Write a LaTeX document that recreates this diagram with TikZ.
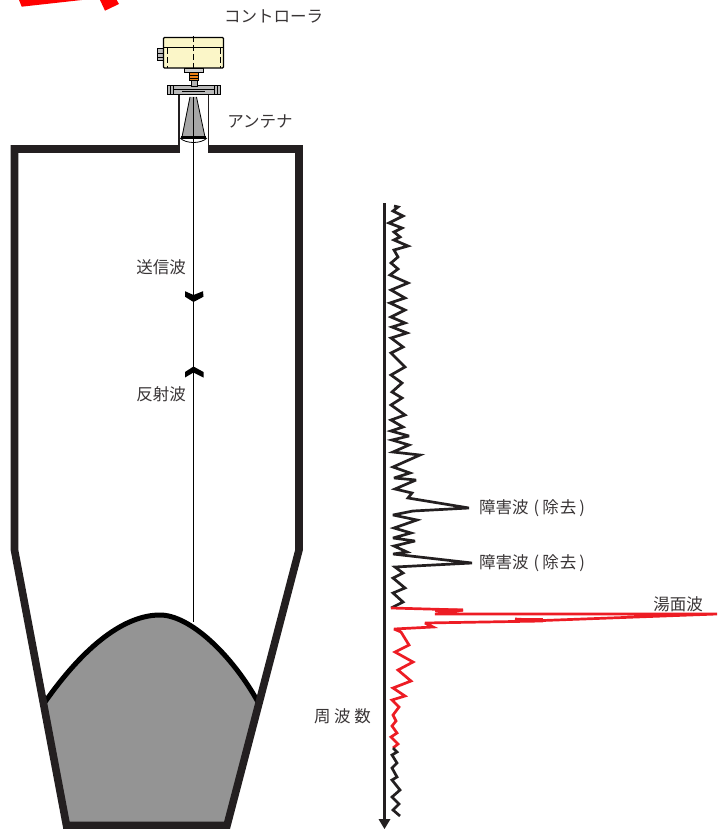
\documentclass[tikz,border=0pt]{standalone}
\usepackage{fontspec}
\setmainfont{Noto Sans CJK JP}
\definecolor{ink}{HTML}{231F20}
\definecolor{fillgray}{HTML}{949494}
\definecolor{boxyellow}{HTML}{FBF6C8}
\definecolor{redwave}{HTML}{ED1C24}
\tikzset{
  lbl/.style={inner sep=0pt,font=\fontsize{16.5}{17}\selectfont,text=ink!90},
  tankwall/.style={draw=ink,line width=7.6pt,line join=miter},
  thinl/.style={draw=black,line width=1.1pt},
  wave/.style={line width=2.7pt,line join=miter,miter limit=4},
}
\begin{document}
\begin{tikzpicture}[x=1pt,y=-1pt]
\useasboundingbox (0,0) rectangle (717,829);
% red scraps top-left
\fill[red] (19,0) -- (21.7,6.7) -- (82,0) -- cycle;
\fill[red] (100,0) -- (105,10.7) -- (119,4) -- (116.7,0) -- cycle;
% material
\fill[fillgray] (45,702) .. controls (85,645) and (125,615) .. (160,615) .. controls (190,615) and (232,655) .. (258,702) -- (227,826) -- (66,826) -- cycle;
\draw[black,line width=5pt] (45,702) .. controls (85,645) and (125,615) .. (160,615) .. controls (190,615) and (232,655) .. (258,702);
% tank
\draw[tankwall] (178,149) -- (14.5,149) -- (14.5,550) -- (66.5,825.5) -- (227,825.5) -- (299,550) -- (299,149) -- (208,149);
% nozzle
\draw[ink,line width=1.1pt] (179,95) -- (179,153);
\draw[ink,line width=1.1pt] (208.3,95) -- (208.3,153);
% centre line
\draw[thinl] (193.5,97) -- (193.5,622);
% cone
\fill[gray!70] (190,97) -- (196.5,97) -- (205,137) -- (182,137) -- cycle;
\draw[black,line width=0.8pt] (190,97) -- (182,137) (196.5,97) -- (205,137);
\draw[black,line width=2.4pt] (181,137.5) -- (206,137.5);
\draw[black,line width=0.8pt] (180,138) .. controls (186,144) and (201,144) .. (207,138);
\draw[thinl] (193.5,97) -- (193.5,145);
% flange
\fill[gray!55,draw=black,line width=1pt] (167,85.5) rectangle (220,95);
\draw[black,line width=0.8pt] (170,85.5) -- (170,95) (173,85.5) -- (173,95) (214,85.5) -- (214,95) (217,85.5) -- (217,95);
\draw[black,line width=1pt] (173,90) -- (214,90);
\draw[black,line width=1.6pt] (182,91.5) -- (205,91.5);
% neck and threads
\fill[gray!60,draw=black,line width=0.7pt] (191,80) rectangle (197,86);
\fill[orange!70!brown,draw=black,line width=0.7pt] (189,72) rectangle (198,80);
\draw[black,line width=0.8pt] (189,75) -- (198,75) (189,78) -- (198,78);
\fill[gray!40,draw=black,line width=0.7pt] (184.5,68) rectangle (203,72);
% gland
\fill[gray!50,draw=black,line width=1pt] (157,49) rectangle (163,61);
\draw[black,line width=0.7pt] (157,53) -- (163,53) (157,57) -- (163,57);
% controller box
\fill[boxyellow,draw=black,line width=1.2pt,rounded corners=1pt] (163.5,37.5) rectangle (223.5,68);
\draw[black,line width=1.2pt] (163.5,47.5) -- (223.5,47.5);
\draw[black,line width=0.9pt,dash pattern=on 6pt off 3pt] (193.5,36) -- (193.5,68);
\draw[black,line width=0.9pt,dash pattern=on 6pt off 3pt] (167,48) -- (167,68);
\draw[black,line width=0.9pt,dash pattern=on 6pt off 3pt] (220,48) -- (220,68);
% direction chevrons
\fill[black] (185,291.2) -- (193.5,295) -- (203,291.2) -- (203.5,296.7) -- (193.5,302) -- (185,296.7) -- cycle;
\fill[black] (185,372) -- (193.5,366.5) -- (203.5,372) -- (203.5,377.5) -- (193.5,372.5) -- (185,377.5) -- cycle;
% axis
\draw[ink,line width=3.6pt] (384.5,203) -- (384.5,820);
\fill[ink] (378.5,819) -- (390.5,819) -- (384.5,829) -- cycle;
% black spectrum
\draw[ink,wave] (394,206) -- (398,207) -- (393,211) -- (403,216) -- (389,223) -- (402,228) -- (394,232) -- (400,237) -- (394,240) -- (408,246) -- (394,250) -- (398,257) -- (391,263) -- (398,269) -- (390,275) -- (408,283) -- (391,290) -- (405,298) -- (390,303) -- (405,310) -- (391,317) -- (405,323) -- (392,327) -- (407,333) -- (391,338) -- (403,347) -- (391,353) -- (405,367) -- (391,375) -- (402,383) -- (392,392) -- (402,398) -- (391,405) -- (405,415) -- (391,420) -- (403,427) -- (391,431) -- (409,436) -- (392,440) -- (409,445) -- (393,452) -- (420,455) -- (393,467) -- (410,473) -- (394,478) -- (416,480) -- (395,489) -- (412,493) -- (408,498) -- (469,508) -- (413,511) -- (393,515) -- (417,520) -- (394,528) -- (411,533) -- (393,538) -- (415,541) -- (394,546) -- (407,552) -- (393,554) -- (472,563) -- (395,567) -- (403,573) -- (393,578) -- (405,588) -- (393,593) -- (403,602) -- (391,608);
% red spectrum
\draw[redwave,wave] (391,608) -- (463,610) -- (435,614) -- (717,614) -- (543,620.5) -- (515,619) -- (543,621) -- (425,623) -- (433,627) -- (394,629) -- (401,632) -- (409,645) -- (395,652) -- (413,662) -- (398,670) -- (411,681) -- (393,688) -- (405,696) -- (392,700) -- (399,707) -- (393,715) -- (396,721) -- (392,726) -- (397,733) -- (391,737) -- (398,744) -- (393,748);
\draw[redwave,line width=3pt] (435,610.5) -- (463,610);
\draw[redwave,line width=3.6pt] (515,620) -- (543,620);
% black tail
\draw[ink,wave] (393,748) -- (397,752) -- (392,755) -- (397,763) -- (392,768) -- (397,777) -- (392,780) -- (400,790) -- (392,797) -- (399,804) -- (393,810) -- (400,816);
% labels
\node[lbl] (ctrl) at (273.5,16.5) {コントローラ};
\node[lbl] (ant) at (260,121.5) {アンテナ};
\node[lbl] (tx) at (161,267) {送信波};
\node[lbl] (rx) at (161,394) {反射波};
\node[lbl,anchor=west] (obsa) at (479,508.5) {障害波\kern5pt(\kern3pt除\kern1pt去\kern3pt)};
\node[lbl,anchor=west] (obsb) at (479,563.5) {障害波\kern5pt(\kern3pt除\kern1pt去\kern3pt)};
\node[lbl] (surf) at (678,604) {湯面波};
\node[lbl] (freq) at (342.5,716) {周 波 数};
\end{tikzpicture}
\end{document}
